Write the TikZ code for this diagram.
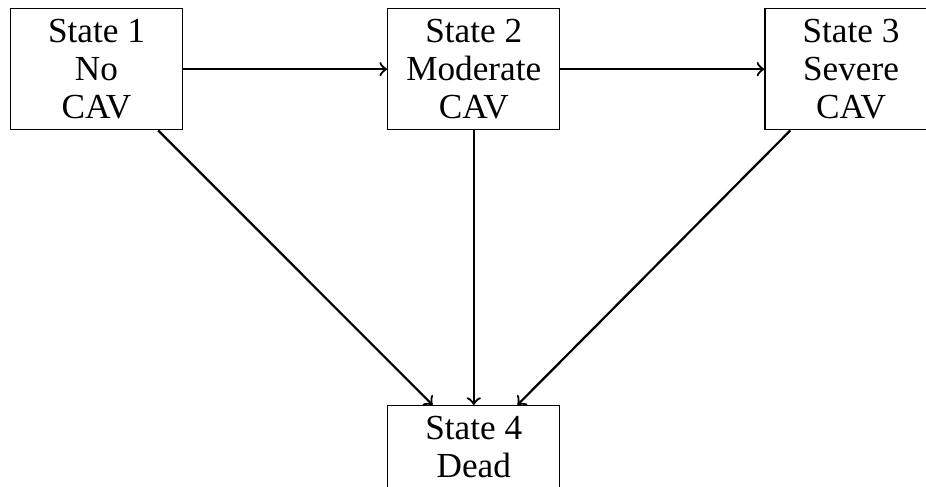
\documentclass[tikz,border=0pt]{standalone}
\newif\ifpal
\IfFileExists{t1ppl.fd}{\IfFileExists{uplr8a.pfb}{\IfFileExists{pplr8t.tfm}{\paltrue}{}}{}}{}
\ifpal
  \usepackage[T1]{fontenc}
  \renewcommand\rmdefault{ppl}
\else
  \usepackage{fontspec}
  \setmainfont{Liberation Serif}
\fi
\usetikzlibrary{calc}
\tikzset{
  stbox/.style={draw, line width=0.4pt, align=center, minimum width=53.75pt, inner sep=3.2pt, font=\fontsize{11}{12}\selectfont},
  link/.style={->, line width=0.7pt},
}
\begin{document}
\begin{tikzpicture}[x=0.3125pt,y=-0.3125pt]
\useasboundingbox (0,0) rectangle (926,486);
\clip (0,0) rectangle (926,486);
\node[stbox, anchor=north] (s1) at (96.5,8) {State 1\\No\\CAV};
\node[stbox, anchor=north] (s2) at (473.75,8) {State 2\\Moderate\\CAV};
\node[stbox, anchor=north] (s3) at (851,8) {State 3\\Severe\\CAV};
\node[stbox, anchor=north, text depth=6pt] (s4) at (473.75,405) {State 4\\Dead};
\draw[link] (s1) -- (s2);
\draw[link] (s2) -- (s3);
\draw[link] ($(s1.south east)+(-25,0)$) -- ($(s4.north west)+(45.5,0)$);
\draw[link] (s2) -- (s4);
\draw[link] ($(s3.south west)+(26,0)$) -- ($(s4.north east)+(-43,0)$);
\end{tikzpicture}
\end{document}
